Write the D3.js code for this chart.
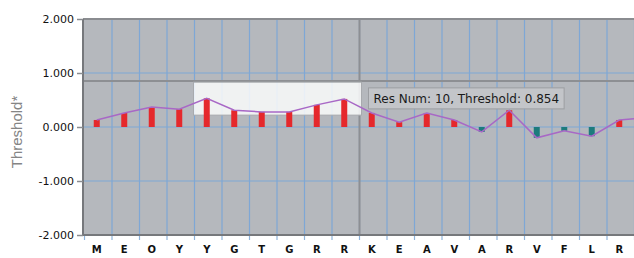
<!DOCTYPE html>
<html>
<head>
<meta charset="utf-8">
<script src="https://cdn.jsdelivr.net/npm/d3@7"></script>
<style>
  body { margin: 0; background: #fff; }
  svg { display: block; }
</style>
</head>
<body>
<script>
// residues along the sequence and their threshold values
var residues = ['M', 'E', 'O', 'Y', 'Y', 'G', 'T', 'G', 'R', 'R', 'K', 'E', 'A', 'V', 'A', 'R', 'V', 'F', 'L', 'R', 'R']
var thresholds = [0.13, 0.26, 0.37, 0.33, 0.53, 0.31, 0.28, 0.28, 0.41, 0.52, 0.26, 0.09, 0.26, 0.13, -0.09, 0.31, -0.20, -0.07, -0.17, 0.13, 0.17]
var yTicks = [2, 1, 0, -1, -2]
var tipText = 'Res Num: 10, Threshold: 0.854'
var crossValue = 0.854
var crossRes = 10
var selFrom = 4, selTo = 10, selLow = 0.22, selHigh = 0.83

var W = 634, H = 258
var margin = {top: 19, right: 0, bottom: 23, left: 83}
var svg = d3.select('body').append('svg').attr('width', W).attr('height', H)

var x = d3.scaleBand()
  .domain(d3.range(residues.length))
  .range([margin.left + 1.5, margin.left + 1.5 + 27.5 * residues.length])
var y = d3.scaleLinear().domain([-2, 2]).range([H - margin.bottom, margin.top])
var bw = x.bandwidth()
var cx = function (i) { return x(i) + bw / 2 - 1.5 }

svg.append('defs').append('clipPath').attr('id', 'plot')
  .append('rect').attr('x', margin.left).attr('y', margin.top)
  .attr('width', W - margin.left).attr('height', y(-2) - y(2))

// plot background
svg.append('rect')
  .attr('x', margin.left).attr('y', margin.top)
  .attr('width', W - margin.left).attr('height', y(-2) - y(2))
  .attr('fill', '#b5b8bd')

var g = svg.append('g').attr('clip-path', 'url(#plot)')

// grid
var bounds = d3.range(1, residues.length + 1)
g.selectAll('.vgrid').data(bounds).enter().append('line')
  .attr('x1', d => x(0) + d * bw).attr('x2', d => x(0) + d * bw)
  .attr('y1', y(2)).attr('y2', y(-2))
  .attr('stroke', '#7ea7d6').attr('stroke-width', 1.2)
g.selectAll('.hgrid').data([1, 0, -1]).enter().append('line')
  .attr('x1', margin.left).attr('x2', W)
  .attr('y1', d => y(d)).attr('y2', d => y(d))
  .attr('stroke', '#7ea7d6').attr('stroke-width', 1.2)

// x tick marks below the axis
svg.selectAll('.xtick').data(d3.range(0, residues.length + 1)).enter().append('line')
  .attr('x1', d => x(0) + d * bw).attr('x2', d => x(0) + d * bw)
  .attr('y1', y(-2)).attr('y2', y(-2) + 5)
  .attr('stroke', '#8fb4dc').attr('stroke-width', 1.2)

// crosshair
g.append('line')
  .attr('x1', margin.left).attr('x2', W)
  .attr('y1', y(crossValue)).attr('y2', y(crossValue))
  .attr('stroke', '#8d8f93').attr('stroke-width', 2)
g.append('line')
  .attr('x1', x(crossRes)).attr('x2', x(crossRes))
  .attr('y1', y(2)).attr('y2', y(-2))
  .attr('stroke', '#8d8f93').attr('stroke-width', 2)

// selection box
g.append('rect')
  .attr('x', x(selFrom) - 1).attr('y', y(selHigh))
  .attr('width', x(selTo) - x(selFrom) + 3).attr('height', y(selLow) - y(selHigh))
  .attr('fill', 'rgba(250,251,252,0.85)')
  .attr('stroke', '#a8aaae').attr('stroke-width', 1)

// bars
g.selectAll('.bar').data(thresholds).enter().append('rect')
  .attr('x', (d, i) => cx(i) - 3)
  .attr('width', 6)
  .attr('y', d => y(Math.max(0, d)))
  .attr('height', d => Math.abs(y(d) - y(0)))
  .attr('fill', d => d >= 0 ? '#e5282c' : '#1c7b7d')

// line
var line = d3.line().x((d, i) => cx(i)).y(d => y(d))
g.append('path').datum(thresholds)
  .attr('d', line)
  .attr('fill', 'none').attr('stroke', '#a868c6').attr('stroke-width', 1.5)

// frame
svg.append('line').attr('x1', margin.left).attr('x2', W).attr('y1', y(2)).attr('y2', y(2))
  .attr('stroke', '#8a8c90').attr('stroke-width', 2)
svg.append('line').attr('x1', margin.left).attr('x2', W).attr('y1', y(-2)).attr('y2', y(-2))
  .attr('stroke', '#76787c').attr('stroke-width', 2)
svg.append('line').attr('x1', margin.left).attr('x2', margin.left).attr('y1', y(2)).attr('y2', y(-2))
  .attr('stroke', '#76787c').attr('stroke-width', 2)

// y axis
var fmt = d3.format('.3f')
var yAxis = svg.append('g').attr('transform', 'translate(' + margin.left + ',0)')
  .call(d3.axisLeft(y).tickValues(yTicks).tickFormat(d => fmt(d).replace('\u2212', '-')).tickSize(6).tickPadding(3))
yAxis.select('.domain').remove()
yAxis.selectAll('line').attr('stroke', '#8a8c90').attr('stroke-width', 1.5)
yAxis.selectAll('text')
  .attr('fill', '#111').style('font', '11px "DejaVu Sans", sans-serif')

// x labels (only the ones that fit in the window)
svg.selectAll('.xlab').data(residues.filter((d, i) => cx(i) + 6 < W)).enter().append('text')
  .attr('x', (d, i) => cx(i)).attr('y', H - 5)
  .attr('text-anchor', 'middle')
  .attr('fill', '#111')
  .style('font', 'bold 10px "DejaVu Sans", sans-serif')
  .text(d => d)

// y title
svg.append('text')
  .attr('transform', 'translate(22,' + 132 + ') rotate(-90)')
  .attr('text-anchor', 'middle')
  .attr('fill', '#858585')
  .style('font', '15px "Liberation Sans", Arial, sans-serif')
  .text('Threshold*')

// tooltip
var tip = svg.append('g').attr('transform', 'translate(' + (x(crossRes) + 9) + ',' + (y(crossValue) + 7) + ')')
var tipLabel = tip.append('text')
  .attr('x', 5).attr('y', 15)
  .attr('fill', '#1a1a1a')
  .style('font', '12px "DejaVu Sans", sans-serif')
  .text(tipText)
var tw = tipLabel.node().getComputedTextLength()
tip.insert('rect', 'text')
  .attr('width', tw + 10).attr('height', 21)
  .attr('fill', '#c3c5c9').attr('stroke', '#9c9ea2').attr('stroke-width', 1)
</script>
</body>
</html>
